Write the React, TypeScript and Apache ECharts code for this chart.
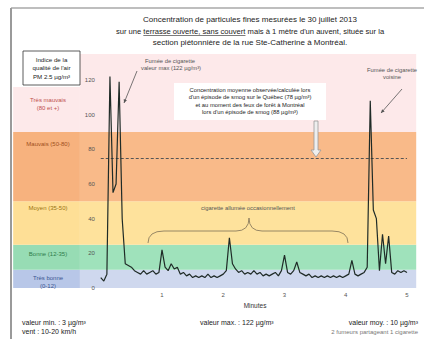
import React, { useEffect, useRef } from "react";
import * as echarts from "echarts";

// PM2.5 readings (µg/m³), one every 0.05 axis unit from 0 to 5
const pm25 = [
  6, 4, 8, 122, 55, 60, 119, 40, 14, 13,
  12, 10, 9, 8, 10, 8, 9, 10, 8, 9,
  22, 12, 10, 14, 11, 12, 8, 9, 7, 8,
  6, 7, 6, 7, 6, 8, 6, 7, 6, 7,
  8, 10, 29, 14, 11, 9, 10, 8, 9, 8,
  10, 8, 9, 7, 8, 7, 8, 9, 7, 10,
  19, 9, 8, 10, 15, 9, 8, 7, 8, 6,
  7, 6, 7, 6, 7, 6, 7, 6, 7, 6,
  7, 8, 16, 8, 7, 8, 9, 12, 108, 45,
  40, 10, 31, 14, 30, 9, 8, 10, 9, 10, 9,
];
const xStep = 0.05;
const xTickLabels = ["1", "2", "3", "4", "5"];
const smogMean = 75;

// background bands (as drawn), bottom → top
const bandLimits = [0, 10.5, 25, 50, 90, 135];
const bandColors = ["#cfd8ee", "#9fe2bb", "#fee29c", "#f9ba89", "#fde9ea"];
const sideColors = ["#b8c7e8", "#97dcb4", "#fedf96", "#f7b27e", "#fde9ea"];
const bandLabels = [
  "Très bonne\n(0-12)",
  "Bonne (12-35)",
  "Moyen (35-50)",
  "Mauvais (50-80)",
  "Très mauvais\n(80 et +)",
];
const bandLabelColors = ["#3a5590", "#2e7d4a", "#9a7410", "#a0501c", "#c0504d"];

const titleLines = [
  "Concentration de particules fines mesurées le 30 juillet 2013",
  "sur une terrasse ouverte, sans couvert mais à 1 mètre d'un auvent, située sur la",
  "section piétonnière de la rue Ste-Catherine à Montréal.",
];
const smogNote = [
  "Concentration moyenne observée/calculée lors",
  "d'un épisode de smog sur le Québec (78 µg/m³)",
  "et au moment des feux de forêt à Montréal",
  "lors d'un épisode de smog (88 µg/m³)",
];

const FONT = '"Liberation Sans", Arial, sans-serif';

function txt(text: string, x: number, y: number, size: number, fill = "#222", align = "center", extra: any = {}) {
  return {
    type: "text",
    x,
    y,
    z: 100,
    style: { text, fontSize: size, fill, align, verticalAlign: "middle", fontFamily: FONT, lineHeight: size + 2, ...extra },
  };
}

function arrow(x1: number, y1: number, x2: number, y2: number, color: string, w = 0.8, head = 4) {
  const a = Math.atan2(y2 - y1, x2 - x1);
  const p1 = [x2 - head * Math.cos(a - 0.45), y2 - head * Math.sin(a - 0.45)];
  const p2 = [x2 - head * Math.cos(a + 0.45), y2 - head * Math.sin(a + 0.45)];
  return [
    { type: "line", z: 100, shape: { x1, y1, x2, y2 }, style: { stroke: color, lineWidth: w } },
    { type: "polygon", z: 100, shape: { points: [[x2, y2], p1, p2] }, style: { fill: color } },
  ];
}

export default function App() {
  const ref = useRef<HTMLDivElement>(null);
  useEffect(() => {
    document.body.style.margin = "0";
    if (!ref.current) return;
    const chart = echarts.init(ref.current, null, { renderer: "svg" });

    // measure for underline in title line 2
    const ctx = document.createElement("canvas").getContext("2d")!;
    ctx.font = `7.6px ${FONT}`;
    const full = ctx.measureText(titleLines[1]).width;
    const pre = ctx.measureText("sur une ").width;
    const ul = ctx.measureText("terrasse ouverte, sans couvert").width;
    const t2x = 250 - full / 2;

    const xMinSide = -1.43;
    const xSplit = -0.34;
    const xMax = 5.15;

    const areas: any[] = [];
    for (let i = 0; i < 5; i++) {
      const top = i === 4 ? 116 : bandLimits[i + 1];
      areas.push([
        { xAxis: xMinSide, yAxis: bandLimits[i], itemStyle: { color: sideColors[i] } },
        { xAxis: xSplit, yAxis: top },
      ]);
      areas.push([
        { xAxis: xSplit, yAxis: bandLimits[i], itemStyle: { color: bandColors[i] } },
        { xAxis: xMax, yAxis: bandLimits[i + 1] },
      ]);
    }

    const sideLabelY = [282, 254, 208, 144, 104];
    const graphics: any[] = [
      { type: "line", z: 100, shape: { x1: 11, y1: 8, x2: 424, y2: 8 }, style: { stroke: "#7f7f7f", lineWidth: 1.2 } },
      { type: "line", z: 100, shape: { x1: 11, y1: 8, x2: 11, y2: 339 }, style: { stroke: "#9a9a9a", lineWidth: 2 } },
      txt(titleLines[0], 250, 19, 8),
      txt(titleLines[1], 250, 31, 7.6),
      { type: "line", z: 100, shape: { x1: t2x + pre, y1: 35.5, x2: t2x + pre + ul, y2: 35.5 }, style: { stroke: "#222", lineWidth: 0.6 } },
      txt(titleLines[2], 250, 42, 8),
      // legend box
      { type: "rect", z: 100, shape: { x: 23, y: 51, width: 57, height: 34 }, style: { fill: "#fff", stroke: "#333", lineWidth: 0.8 } },
      txt("Indice de la", 51.5, 59, 6.2),
      txt("qualité de l'air", 51.5, 67, 6.2),
      txt("PM 2.5 µg/m³", 51.5, 76, 6.2),
      ...bandLabels.map((t, i) => txt(t, 48, sideLabelY[i], 6, bandLabelColors[i])),
      // annotation: first cigarette
      txt("Fumée de cigarette", 170, 61, 5.8, "#555"),
      txt("valeur max (122 µg/m³)", 171, 68, 5.8, "#555"),
      ...arrow(137, 71, 124, 103, "#555"),
      // annotation: neighbour cigarette
      txt("Fumée de cigarette", 392, 70, 5.8, "#555"),
      txt("voisine", 392, 77, 5.8, "#555"),
      ...arrow(402, 89, 381, 113, "#555"),
      // smog note
      { type: "rect", z: 100, shape: { x: 174, y: 83, width: 152, height: 37 }, style: { fill: "#fff" } },
      ...smogNote.map((t, i) => txt(t, 250, 90 + i * 7.4, 5.8, "#222")),
      {
        type: "polygon",
        z: 100,
        shape: { points: [[314, 121], [318, 121], [318, 150], [321, 150], [316, 157], [311, 150], [314, 150]] },
        style: { fill: "#eeeeee", stroke: "#9a9a9a", lineWidth: 0.8 },
      },
      // brace
      { type: "bezierCurve", z: 100, shape: { x1: 148, y1: 243, x2: 164, y2: 231, cpx1: 148, cpy1: 231 }, style: { stroke: "#8c7d5e", lineWidth: 0.9, fill: null } },
      { type: "line", z: 100, shape: { x1: 164, y1: 231, x2: 236, y2: 231 }, style: { stroke: "#8c7d5e", lineWidth: 0.9 } },
      { type: "bezierCurve", z: 100, shape: { x1: 236, y1: 231, x2: 249, y2: 218, cpx1: 249, cpy1: 231 }, style: { stroke: "#8c7d5e", lineWidth: 0.9, fill: null } },
      { type: "bezierCurve", z: 100, shape: { x1: 249, y1: 218, x2: 262, y2: 231, cpx1: 249, cpy1: 231 }, style: { stroke: "#8c7d5e", lineWidth: 0.9, fill: null } },
      { type: "line", z: 100, shape: { x1: 262, y1: 231, x2: 332, y2: 231 }, style: { stroke: "#8c7d5e", lineWidth: 0.9 } },
      { type: "bezierCurve", z: 100, shape: { x1: 332, y1: 231, x2: 348, y2: 243, cpx1: 348, cpy1: 231 }, style: { stroke: "#8c7d5e", lineWidth: 0.9, fill: null } },
      txt("cigarette allumée occasionnellement", 248, 208, 5.8, "#555"),
      // axis title & bottom notes
      txt("Minutes", 255, 305, 6.5, "#333"),
      txt("valeur min. : 3 µg/m³", 22, 322, 7, "#222", "left"),
      txt("vent : 10-20 km/h", 22, 331, 7, "#222", "left"),
      txt("valeur max. : 122 µg/m³", 200, 322, 7, "#222", "left"),
      txt("valeur moy. : 10 µg/m³", 418, 322, 7, "#222", "right"),
      txt("2 fumeurs partageant 1 cigarette", 418, 332, 6, "#777", "right"),
    ];

    chart.setOption({
      animation: false,
      grid: { left: 8.875, right: 7.8, top: 54, bottom: 51, containLabel: false, outerBoundsMode: "none" },
      xAxis: {
        type: "value",
        min: -1.5,
        max: xMax,
        interval: 0.5,
        z: 20,
        axisLine: { show: false },
        axisTick: { show: false },
        splitLine: { show: false },
        axisLabel: {
          margin: 4,
          fontSize: 6,
          color: "#555",
          fontFamily: FONT,
          formatter: (v: number) => {
            const k = Math.round(v);
            return Math.abs(v - k) < 1e-6 && k >= 1 && k <= 5 ? xTickLabels[k - 1] : "";
          },
        },
      },
      yAxis: {
        type: "value",
        min: 0,
        max: 135,
        interval: 20,
        position: "left",
        offset: -88,
        z: 20,
        axisLine: { show: false },
        axisTick: { show: false },
        splitLine: { show: false },
        axisLabel: { margin: 2, fontSize: 6, color: "#555", fontFamily: FONT, showMaxLabel: false },
      },
      series: [
        {
          type: "line",
          data: pm25.map((v, i) => [i * xStep, v]),
          showSymbol: false,
          symbol: "none",
          lineStyle: { color: "#1f2b27", width: 1.2 },
          z: 5,
          markArea: { silent: true, data: areas, label: { show: false } },
          markLine: {
            silent: true,
            symbol: "none",
            label: { show: false },
            lineStyle: { color: "#555", type: [3, 2], width: 1.2 },
            data: [[{ coord: [0, smogMean] }, { coord: [5.0, smogMean] }]],
          },
        },
      ],
      graphic: graphics,
    });
    return () => chart.dispose();
  }, []);
  return <div ref={ref} style={{ width: 424, height: 339 }} />;
}
